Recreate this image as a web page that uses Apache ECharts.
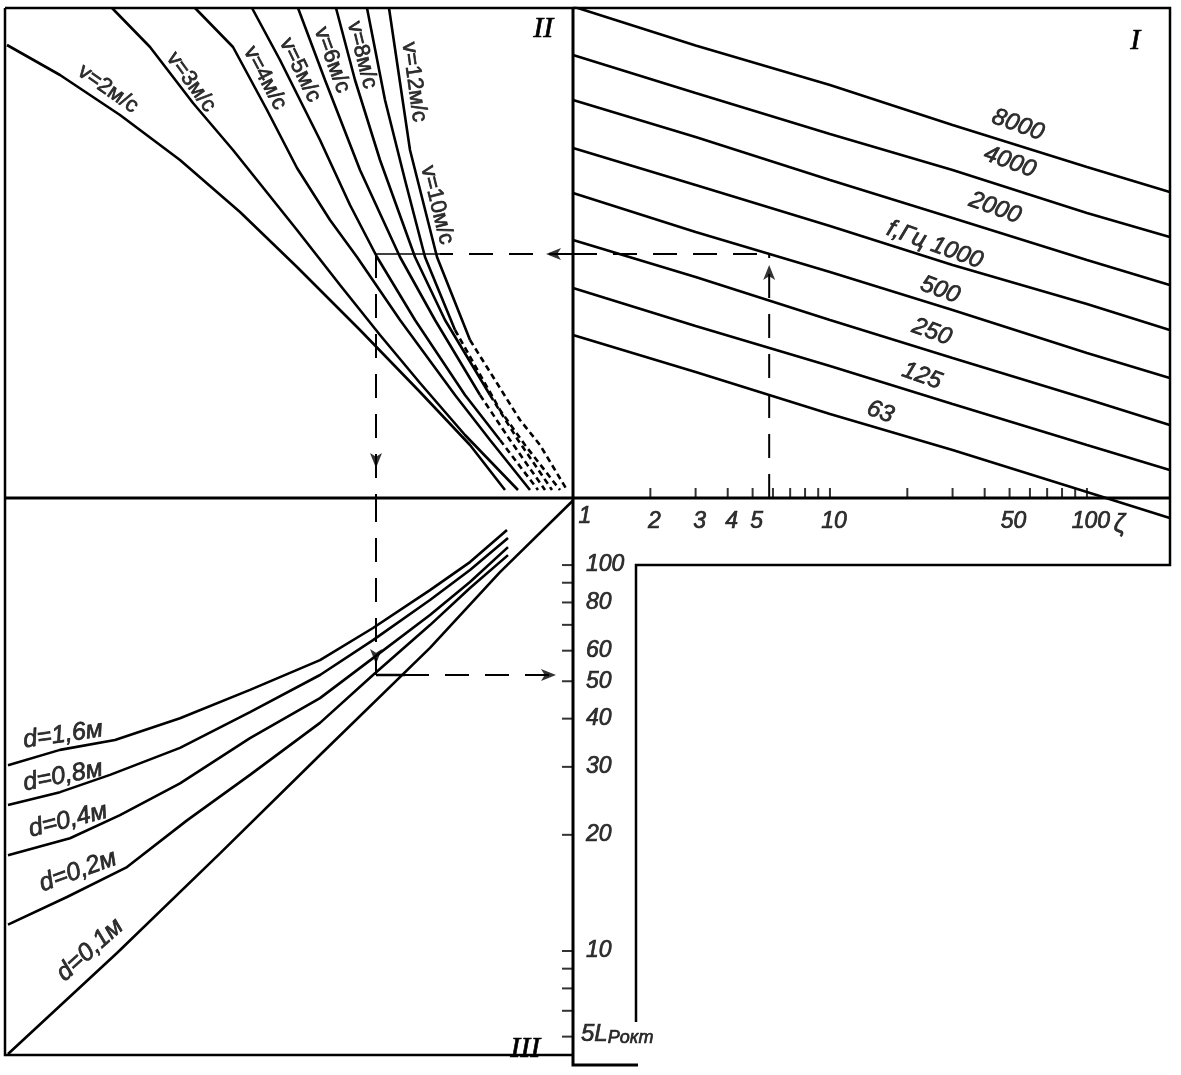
<!DOCTYPE html>
<html>
<head>
<meta charset="utf-8">
<script src="https://cdn.jsdelivr.net/npm/echarts@6/dist/echarts.min.js"></script>
<style>
  html, body { margin: 0; padding: 0; background: #fff; }
  #chart { width: 1181px; height: 1075px; }
</style>
</head>
<body>
<div id="chart"></div>
<script>
// ---- quadrant I: level vs resistance coefficient ζ (log), one line per octave band
const zetaGrid = [1, 3, 10, 30, 100, 210];
const bandNames = ['8000', '4000', '2000', '1000', '500', '250', '125', '63'];
const level8000 = [98.3, 90.5, 82.6, 74.6, 66.2, 61.2];
const level4000 = [88.6, 81.0, 72.8, 65.6, 57.0, 52.2];
const level2000 = [79.6, 72.2, 63.6, 56.0, 47.6, 42.6];
const level1000 = [70.0, 62.6, 54.4, 46.6, 38.8, 33.6];
const level500 = [61.0, 53.2, 45.2, 37.6, 29.0, 24.0];
const level250 = [51.6, 44.2, 35.6, 28.0, 19.8, 14.6];
const level125 = [42.0, 34.4, 26.4, 18.8, 10.6, 5.6];
const level63 = [32.6, 25.2, 16.8, 9.6, 1.2, -4.0];

// ---- quadrant II: [u, level] for each flow speed
const speedNames = ['2', '3', '4', '5', '6', '8', '10', '12'];
const curveV2 = [[113.2, 90.6], [102.6, 84.6], [90.6, 76.6], [78.6, 67.6], [66.6, 57.2], [55.2, 46.2], [42.6, 33.6], [30.6, 21.2], [20.6, 10.6], [13.6, 1.6]];
const curveV3 = [[92.2, 98], [84.6, 90.2], [76, 79], [68, 69.6], [55.2, 53.6], [46.6, 42.6], [38.6, 32.6], [30.6, 23], [21.6, 12.6], [11, 1.6]];
const curveV4 = [[75.6, 98], [68, 90.2], [61.2, 77.6], [55.2, 66], [48.6, 55.6], [43.2, 48.2], [34.6, 35.6], [23.6, 20.6], [16.6, 11.6], [8.6, 1.6]];
const curveV5 = [[64.2, 98], [58.6, 87.6], [50.6, 71.6], [44.6, 58.6], [39.2, 48.2], [31.6, 35.6], [21.6, 20.6], [14.6, 11.6], [7, 1.6]];
const curveV6 = [[55, 98], [49.6, 83.6], [42.6, 65.6], [34.6, 48.2], [27.6, 35.6], [18.6, 20.6], [12.6, 11.6], [5.6, 1.6]];
const curveV8 = [[47.4, 98], [43.6, 83.6], [38.6, 67.6], [31.6, 48.2], [25.6, 35.6], [16.6, 20.6], [11, 11.6], [4.2, 1.6]];
const curveV10 = [[41.2, 98], [37.6, 79.6], [33.6, 63.6], [29.6, 48.2], [23.6, 33.6], [14.6, 17.6], [9.6, 10.6], [2.6, 1.6]];
const curveV12 = [[36.8, 98], [32.6, 69.6], [27.2, 48.2], [20.6, 31.6], [10.6, 15.6], [6.6, 10.6], [1.2, 1.6]];

// ---- quadrant III: [u, L_P окт] for each pipe diameter
const diamNames = ['1,6', '0,8', '0,4', '0,2', '0,1'];
const curveD16 = [[113, 30.3], [102.6, 33.2], [91.6, 35.2], [78.6, 40.1], [64.6, 47.5], [50.6, 56.7], [40, 68.7], [28.6, 86.1], [20.6, 101.8], [13.2, 123.2]];
const curveD08 = [[113, 23.9], [102.6, 25.8], [92.6, 28.6], [78.6, 33.6], [64.6, 41.6], [50.6, 51.9], [40, 63.9], [28.6, 81.2], [20.6, 97.1], [13, 117.5]];
const curveD04 = [[113, 17.7], [100.6, 19.6], [90.6, 22.5], [78.6, 27.2], [64.6, 35.6], [50.6, 45.2], [40, 57.4], [28.6, 74.2], [20.6, 90.4], [13, 111.3]];
const curveD02 = [[113, 11.7], [101.2, 13.8], [89.2, 16.5], [77.2, 21.8], [64.6, 28.6], [50.6, 39.0], [40, 51.9], [28.6, 69.9], [20.6, 87.2], [13, 106.1]];
const curveD01 = [[113, 5.41], [91.2, 9.88], [70.6, 17.9], [50.6, 32.2], [28.6, 61.0], [14.6, 95.9], [0, 147]];

// ---- scales
const zetaTicks = [2, 3, 4, 5, 6, 7, 8, 9, 10, 20, 30, 40, 50, 60, 70, 80, 90, 100];
const zetaTickLabels = [1, 2, 3, 4, 5, 10, 50, 100];
const lpTicks = [6, 7, 8, 9, 10, 20, 30, 40, 50, 60, 70, 80, 90, 100];
const lpTickLabels = [10, 20, 30, 40, 50, 60, 80, 100];

// ---- worked example (dashed key)
const exampleZeta = 5.8;
const exampleLevel = 48.8;
const exampleU = 39.4;
const exampleLp = 51.9;

document.addEventListener('DOMContentLoaded', () => {
    const chart = echarts.init(document.getElementById('chart'), null, {renderer: 'canvas'});

    const X0 = 573, Y0 = 498, LEFT = 5, TOP = 8, RIGHT = 1170, BOTTOM = 1055;
    const ink = '#000';
    // thin outline makes the lettering look like the inked original
    const inked = {color: ink, textBorderColor: ink, textBorderWidth: 0.7};
    const numFont = Object.assign({fontFamily: 'Liberation Sans', fontStyle: 'italic', fontSize: 23}, inked);

    const line = (data, idx, extra) => ({
        type: 'line', xAxisIndex: idx, yAxisIndex: idx, data: data,
        symbol: 'none', silent: true, animation: false,
        lineStyle: Object.assign({color: ink, width: 2.6}, extra || {})
    });

    const texts = (idx, items, font) => ({
        type: 'scatter', xAxisIndex: idx, yAxisIndex: idx, symbolSize: 0, silent: true, clip: false, animation: false,
        data: items.map(t => ({
            value: [t.x, t.y],
            label: Object.assign({show: true, position: 'inside', formatter: t.text, rotate: t.rot || 0}, font)
        }))
    });

    const arrows = (idx, items) => ({
        type: 'scatter', xAxisIndex: idx, yAxisIndex: idx, symbol: 'arrow', symbolSize: [9, 15],
        silent: true, clip: false, animation: false, itemStyle: {color: ink},
        data: items.map(a => ({value: [a.x, a.y], symbolRotate: a.rot}))
    });

    const series = [];

    // quadrant I
    const bandLevels = [level8000, level4000, level2000, level1000, level500, level250, level125, level63];
    bandLevels.forEach(lv => series.push(line(zetaGrid.map((z, i) => [z, lv[i]]), 0)));

    // ζ axis ticks and labels
    series.push({
        type: 'scatter', xAxisIndex: 0, yAxisIndex: 0, silent: true, clip: false, animation: false,
        symbol: 'rect', itemStyle: {color: ink},
        data: [1].concat(zetaTicks).map(z => ({
            value: [z, 0],
            symbolSize: z === 1 ? 0 : [2, 10],
            symbolOffset: [0, -5],
            label: Object.assign({
                show: zetaTickLabels.includes(z), position: 'bottom', distance: 12,
                offset: [z === 1 ? 12 : 4, 0], formatter: String(z)
            }, numFont)
        }))
    });
    series.push(texts(0, [{x: 134, y: -5.4, text: 'ζ'}], Object.assign({}, numFont, {fontSize: 25})));

    // quadrant II, lower parts of the higher speeds are dashed
    const dashFrom = {5: 7, 6: 5, 8: 5, 10: 4, 12: 3};
    [curveV2, curveV3, curveV4, curveV5, curveV6, curveV8, curveV10, curveV12].forEach((c, i) => {
        const k = dashFrom[speedNames[i]];
        if (k === undefined) {
            series.push(line(c, 1));
        } else {
            series.push(line(c.slice(0, k + 1), 1));
            series.push(line(c.slice(k), 1, {type: [6, 4]}));
        }
    });

    // quadrant III
    [curveD16, curveD08, curveD04, curveD02, curveD01].forEach(c => series.push(line(c, 2)));

    // L_P axis ticks and labels (on the left side of the divider)
    series.push({
        type: 'scatter', xAxisIndex: 2, yAxisIndex: 2, silent: true, clip: false, animation: false,
        symbol: 'rect', itemStyle: {color: ink},
        data: lpTicks.map(v => ({
            value: [0, v], symbolSize: [11, 2], symbolOffset: [-5.5, 0],
            label: Object.assign({
                show: lpTickLabels.includes(v), position: 'right', distance: 13, formatter: String(v)
            }, numFont)
        }))
    });
    series.push({
        type: 'scatter', xAxisIndex: 2, yAxisIndex: 2, symbolSize: 0, silent: true, clip: false, animation: false,
        data: [{
            value: [0, 6.1],
            label: {
                show: true, position: 'right', distance: 8,
                formatter: '{a|5L}{b|Pокт}',
                rich: {
                    a: Object.assign({fontFamily: 'Liberation Sans', fontStyle: 'italic', fontSize: 24}, inked),
                    b: Object.assign({fontFamily: 'Liberation Sans', fontStyle: 'italic', fontSize: 18, padding: [9, 0, 0, 0]}, inked)
                }
            }
        }]
    });

    // worked example path
    const dash = {type: [24, 16], width: 2};
    series.push(line([[exampleZeta, 0], [exampleZeta, exampleLevel]], 0, dash));
    series.push(line([[1, exampleLevel], [exampleZeta, exampleLevel]], 0, dash));
    series.push(line([[0, exampleLevel], [26.6, exampleLevel]], 1, dash));
    series.push(line([[26.6, exampleLevel], [exampleU, exampleLevel]], 1, {width: 1.3}));
    series.push(line([[exampleU, exampleLevel], [exampleU, 0]], 1, dash));
    series.push(line([[exampleU, 149.2], [exampleU, exampleLp]], 2, dash));
    series.push(line([[exampleU, exampleLp], [33.6, exampleLp]], 2, {width: 2.4}));
    series.push(line([[33.6, exampleLp], [2, exampleLp]], 2, dash));
    series.push(arrows(0, [{x: exampleZeta, y: 46.6, rot: 0}]));
    series.push(arrows(1, [{x: 5.4, y: exampleLevel, rot: 90}, {x: exampleU, y: 6, rot: 180}]));
    series.push(arrows(2, [{x: exampleU, y: 55.4, rot: 180}, {x: 3.4, y: exampleLp, rot: -90}]));

    // curve captions
    const bandFont = Object.assign({}, numFont, {fontSize: 24});
    series.push(texts(0, [
        {x: 53.9, y: 74.6, text: '8000', rot: -20},
        {x: 50.1, y: 67.2, text: '4000', rot: -20},
        {x: 43.9, y: 58.0, text: '2000', rot: -20},
        {x: 25.6, y: 50.6, text: 'f,Гц 1000', rot: -20},
        {x: 26.8, y: 41.6, text: '500', rot: -20},
        {x: 24.9, y: 33.2, text: '250', rot: -20},
        {x: 22.8, y: 24.4, text: '125', rot: -20},
        {x: 15.7, y: 17.2, text: '63', rot: -20}
    ], bandFont));

    const speedFont = Object.assign({fontFamily: 'Liberation Sans', fontSize: 22}, inked);
    const speedLabels = [
        {x: 93, y: 81.8, rot: -35}, {x: 76.4, y: 83.2, rot: -54}, {x: 61.6, y: 84, rot: -62},
        {x: 54.6, y: 85.6, rot: -64}, {x: 48.2, y: 87.6, rot: -70}, {x: 42.2, y: 88.6, rot: -76},
        {x: 27.2, y: 58.6, rot: -76}, {x: 31.8, y: 83.2, rot: -82}
    ];
    series.push(texts(1, speedLabels.map((p, i) => Object.assign({text: 'v=' + speedNames[i] + 'м/с'}, p)), speedFont));

    // diameter captions rise to the right with their curves
    const diamFont = Object.assign({fontFamily: 'Liberation Sans', fontStyle: 'italic', fontSize: 25}, inked);
    const diamLabels = [
        {x: 102, y: 36.3, rot: 8}, {x: 102, y: 28.4, rot: 11}, {x: 101, y: 21.8, rot: 14},
        {x: 99, y: 16.1, rot: 20}, {x: 96.6, y: 10.06, rot: 42}
    ];
    series.push(texts(2, diamLabels.map((p, i) => Object.assign({text: 'd=' + diamNames[i] + 'м'}, p)), diamFont));

    // frame of the nomogram
    const stroke = (points, w) => ({
        type: 'polyline', silent: true, z: 100,
        shape: {points: points}, style: {stroke: ink, lineWidth: w, fill: null}
    });
    const roman = (text, left, top) => ({
        type: 'text', left: left, top: top, silent: true, z: 100,
        style: {text: text, font: 'italic 30px "Liberation Serif"', fill: ink, stroke: ink, lineWidth: 0.6}
    });

    const hidden = {show: false};
    chart.setOption({
        animation: false,
        backgroundColor: '#fff',
        grid: [
            {left: X0, top: TOP, width: RIGHT - X0, height: 515},
            {left: LEFT, top: TOP, width: X0 - LEFT, height: Y0 - TOP},
            {left: LEFT, top: Y0, width: X0 - LEFT, height: BOTTOM - Y0}
        ],
        xAxis: [
            Object.assign({type: 'log', gridIndex: 0, min: 1, max: 210.5}, hidden),
            Object.assign({type: 'value', gridIndex: 1, min: 0, max: 113.6, inverse: true}, hidden),
            Object.assign({type: 'value', gridIndex: 2, min: 0, max: 113.6, inverse: true}, hidden)
        ],
        yAxis: [
            Object.assign({type: 'value', gridIndex: 0, min: -5, max: 98}, hidden),
            Object.assign({type: 'value', gridIndex: 1, min: 0, max: 98}, hidden),
            Object.assign({type: 'log', gridIndex: 2, min: 5.377, max: 149.2}, hidden)
        ],
        series: series,
        graphic: [
            stroke([[LEFT, TOP], [RIGHT, TOP], [RIGHT, 565], [636, 565], [636, 1022]], 2.5),
            stroke([[LEFT, TOP], [LEFT, BOTTOM], [X0, BOTTOM]], 2.5),
            stroke([[LEFT, Y0], [RIGHT, Y0]], 3),
            stroke([[X0, TOP], [X0, 1065], [638, 1065]], 3),
            roman('II', 533, 14),
            roman('I', 1130, 26),
            roman('III', 510, 1034)
        ]
    });
});
</script>
</body>
</html>
